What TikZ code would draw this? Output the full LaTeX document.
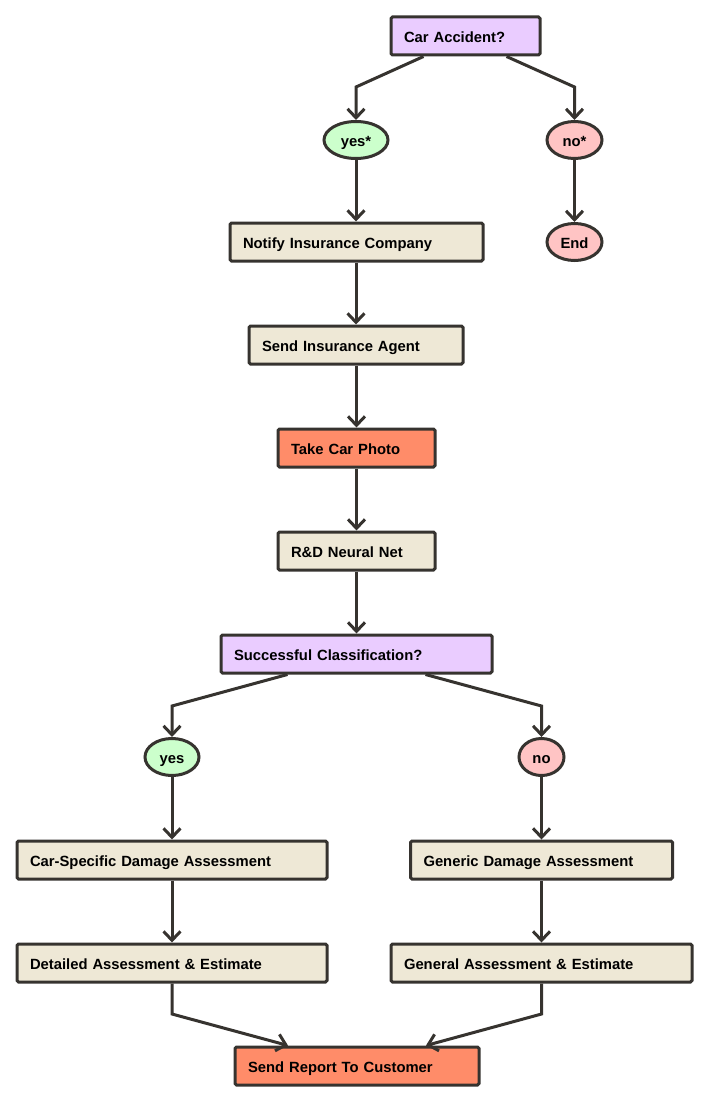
\documentclass[tikz,border=0pt]{standalone}
\usepackage{fontspec}
\setmainfont{Liberation Sans}
\usetikzlibrary{arrows.meta,shapes.geometric}
\definecolor{edge}{HTML}{36332F}
\definecolor{decide}{HTML}{EACCFF}
\definecolor{task}{HTML}{EEE8D6}
\definecolor{key}{HTML}{FF8C69}
\definecolor{yesfill}{HTML}{CCFFCC}
\definecolor{nofill}{HTML}{FFC4C4}
\tikzset{
  base/.style={draw=edge, line width=3pt, font=\fontsize{14.8}{16}\selectfont\bfseries, text=black,
    text height=13pt, text depth=0.4pt},
  box/.style={base, rectangle, rounded corners=1.5pt, minimum height=38pt, inner xsep=13pt, inner ysep=0pt, align=left},
  oval/.style={base, ellipse, inner sep=0pt, minimum height=37pt},
  arr/.style={draw=edge, line width=3pt, line join=miter, -{Straight Barb[length=9pt,width=17pt,line width=3pt]}},
}
\begin{document}
\begin{tikzpicture}[x=1pt,y=-1pt]
\useasboundingbox (0,0) rectangle (708,1102);

% decision, answers and the main chain
\node[box, fill=decide, text width=123pt] (acc) at (465.5,36) {Car Accident?};
\node[oval, fill=yesfill, minimum width=64pt] (yes1) at (356,140) {yes*};
\node[oval, fill=nofill, minimum width=55pt] (no1) at (574.5,140) {no*};
\node[oval, fill=nofill, minimum width=55pt] (end) at (574.5,242) {End};
\node[box, fill=task, text width=227pt] (notify) at (356.5,242) {Notify Insurance Company};
\node[box, fill=task, text width=188pt] (agent) at (356,345) {Send Insurance Agent};
\node[box, fill=key, text width=131pt] (photo) at (356.5,448) {Take Car Photo};
\node[box, fill=task, text width=131pt] (net) at (356.5,551) {R\&D Neural Net};
\node[box, fill=decide, text width=245pt] (cls) at (356.5,654) {Successful Classification?};

% two assessment branches
\node[oval, fill=yesfill, minimum width=54pt] (yes2) at (172,757) {yes};
\node[oval, fill=nofill, minimum width=45pt] (no2) at (541.5,757) {no};
\node[box, fill=task, text width=284pt] (carspec) at (172,860) {Car-Specific Damage Assessment};
\node[box, fill=task, text width=236pt] (generic) at (541.5,860) {Generic Damage Assessment};
\node[box, fill=task, text width=284pt] (detail) at (172,963) {Detailed Assessment \& Estimate};
\node[box, fill=task, text width=275pt] (general) at (541.5,963) {General Assessment \& Estimate};
\node[box, fill=key, text width=218pt] (report) at (357,1066) {Send Report To Customer};

% connectors
\draw[arr] ([xshift=-42pt]acc.south) -- (356,87) -- (yes1.north);
\draw[arr] ([xshift=41pt]acc.south) -- (574.5,87) -- (no1.north);
\draw[arr] (no1) -- (end);
\draw[arr] (yes1) -- (yes1 |- notify.north);
\draw[arr] (notify.south -| agent.north) -- (agent.north);
\draw[arr] (agent.south -| photo.north) -- (photo.north);
\draw[arr] (photo) -- (net);
\draw[arr] (net) -- (cls);
\draw[arr] ([xshift=-69pt]cls.south) -- (172,706) -- (yes2.north);
\draw[arr] ([xshift=69pt]cls.south) -- (541.5,706) -- (no2.north);
\draw[arr] (yes2) -- (carspec);
\draw[arr] (no2) -- (generic);
\draw[arr] (carspec) -- (detail);
\draw[arr] (generic) -- (general);
\draw[arr] (detail.south) -- (172,1014) -- ([xshift=-69pt]report.north);
\draw[arr] (general.south) -- (541.5,1014) -- ([xshift=69pt]report.north);
\end{tikzpicture}
\end{document}
